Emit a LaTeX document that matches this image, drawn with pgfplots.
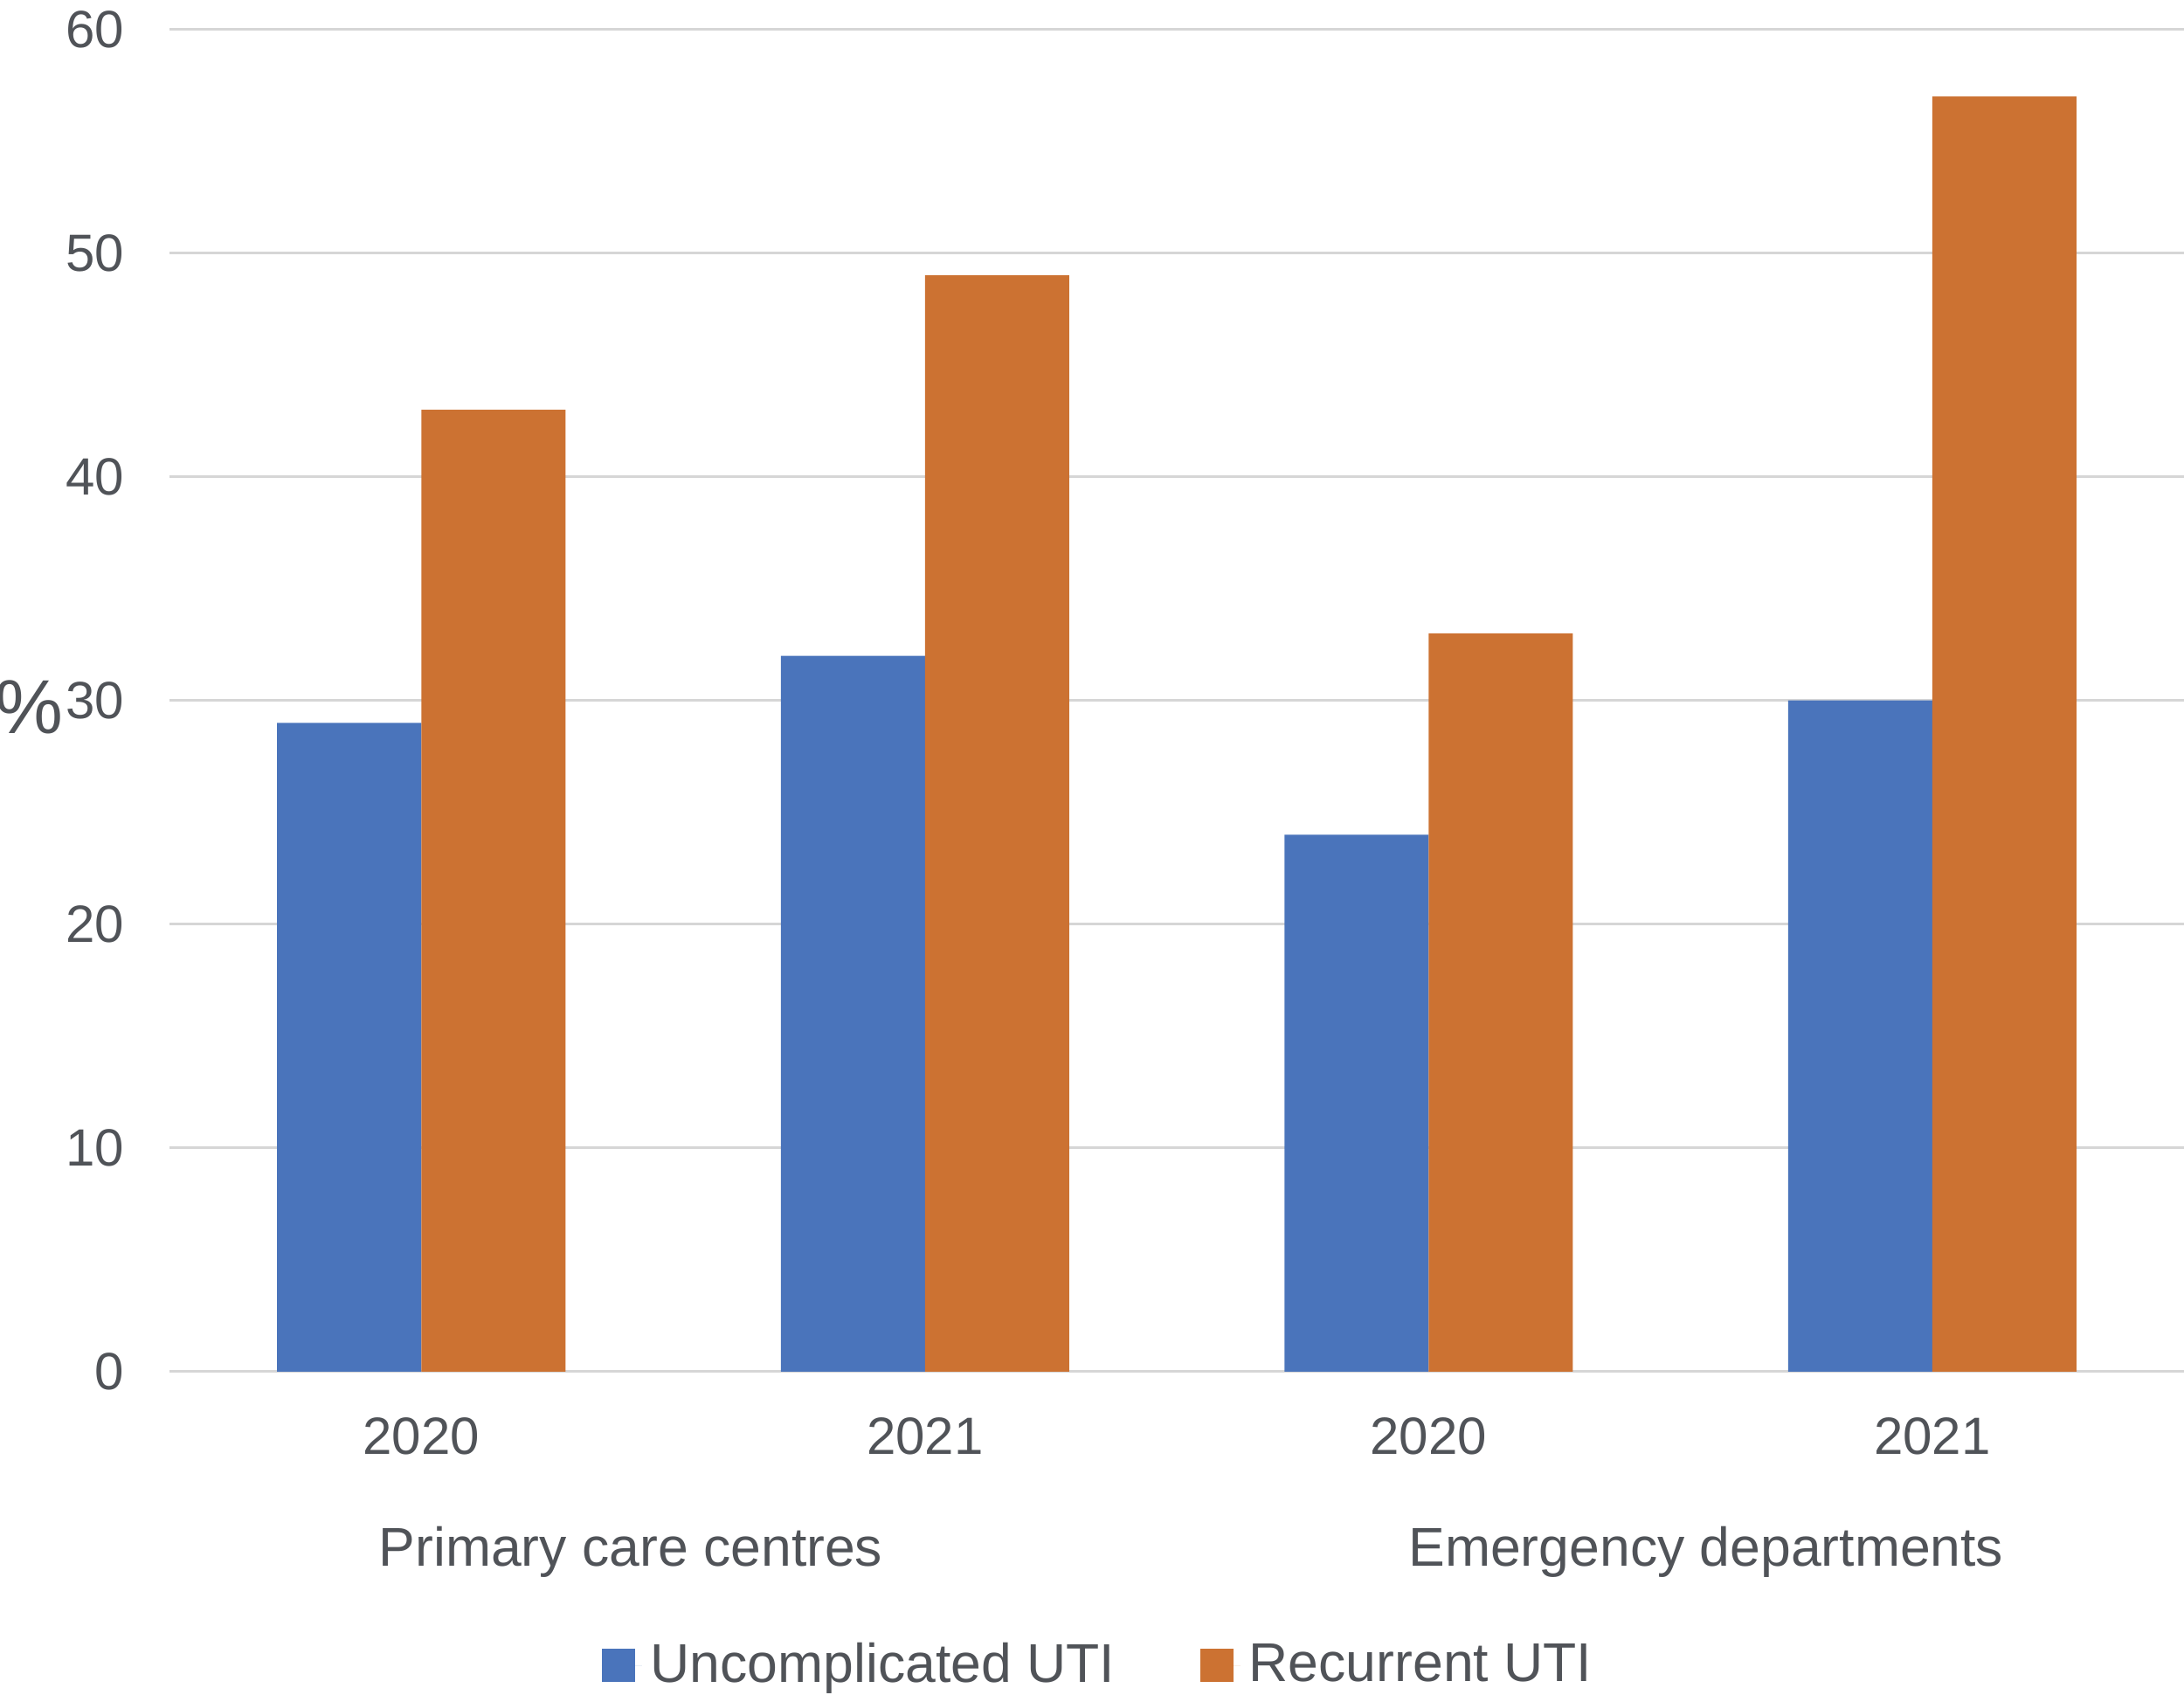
\documentclass[border=0pt]{standalone}
\usepackage{pgfplots}
\pgfplotsset{compat=1.18}
\usepackage{fontspec}
\setmainfont{Liberation Sans}
\definecolor{ublue}{HTML}{4A74BB}
\definecolor{rorange}{HTML}{CC7232}
\definecolor{gridc}{HTML}{D6D6D6}
\definecolor{txt}{HTML}{505358}
\newcommand{\tck}{\fontsize{12pt}{14pt}\selectfont\color{txt}}
\newcommand{\lbl}{\fontsize{12.5pt}{15pt}\selectfont\color{txt}}
\begin{document}
\begin{tikzpicture}
\begin{axis}[
  scale only axis,
  width=461.2pt, height=307.3pt,
  xmin=-0.5, xmax=3.5, ymin=0, ymax=60,
  xtick={0,1,2,3}, xticklabels={2020,2021,2020,2021},
  ytick={0,10,20,30,40,50,60},
  major tick length=0pt,
  axis line style={draw=none},
  ymajorgrids, grid style={gridc, line width=0.6pt},
  /pgf/number format/assume math mode=true,
  yticklabel style={font=\tck, anchor=east, inner sep=0pt, xshift=-10.2pt},
  xticklabel style={font=\tck, anchor=north, inner sep=0pt, yshift=-10.4pt},
  clip=false,
  legend columns=2,
  legend image code/.code={\fill[#1] (0pt,-3.8pt) rectangle (7.6pt,3.8pt); \path (0pt,0pt) -- (9.2pt,0pt);},
  legend style={draw=none, fill=none, font=\lbl, at={(rel axis cs:0.4625,-0.219)}, anchor=center,
    /tikz/every even column/.append style={column sep=17.5pt}},
]
\addplot[ybar, bar width=33pt, bar shift=-16.5pt, fill=ublue, draw=none] coordinates {(0,29) (1,32) (2,24) (3,30)};
\addlegendentry{Uncomplicated UTI}
\addplot[ybar, bar width=33pt, bar shift=16.5pt, fill=rorange, draw=none] coordinates {(0,43) (1,49) (2,33) (3,57)};
\addlegendentry{Recurrent UTI}
\node[font=\lbl, anchor=base, inner sep=0pt] at ([yshift=-44.6pt]axis cs:0.416,0) {Primary care centres};
\node[font=\lbl, anchor=base, inner sep=0pt] at ([yshift=-44.6pt]axis cs:2.551,0) {Emergency departments};
\node[font=\fontsize{17.5pt}{20pt}\selectfont\color{txt}, anchor=east, inner sep=0pt] at ([xshift=-24.2pt]rel axis cs:0,0.495) {\%};
\coordinate (bl) at (rel axis cs:0,0);
\coordinate (tr) at (rel axis cs:1,1);
\end{axis}
\pgfresetboundingbox
\path[use as bounding box] ([shift={(-38.8pt,-75.6pt)}]bl) rectangle ([shift={(0pt,6.7pt)}]tr);
\end{tikzpicture}
\end{document}
